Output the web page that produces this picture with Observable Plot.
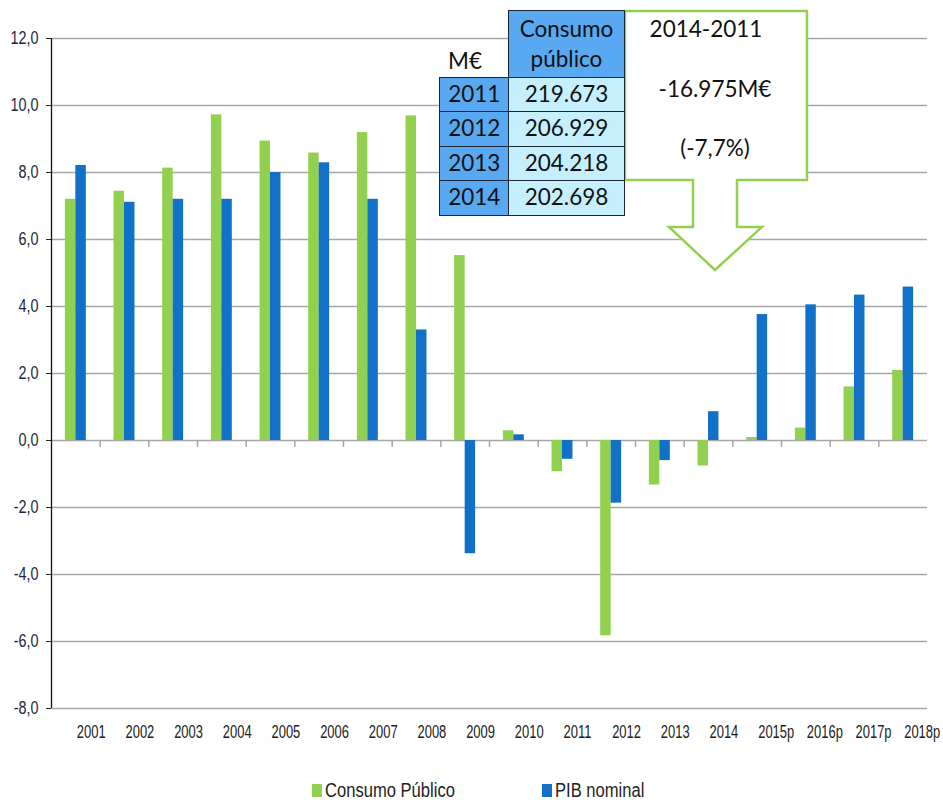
<!DOCTYPE html>
<html>
<head>
<meta charset="utf-8">
<script src="https://cdn.jsdelivr.net/npm/d3@7"></script>
<script src="https://cdn.jsdelivr.net/npm/@observablehq/plot@0.6"></script>
<style>
  html, body { margin: 0; padding: 0; background: white; }
  #wrap { position: relative; width: 943px; height: 802px; overflow: hidden; background: white; }
  #chart { position: absolute; left: 0; top: 0; }
  #legend { position: absolute; left: 0; top: 760px; width: 943px; height: 42px; }
  .lg-sw { position: absolute; width: 10px; height: 13px; top: 24px; }
  .lg-tx { position: absolute; top: 19px; font-family: "Liberation Sans", Arial, sans-serif; font-size: 19.5px; line-height: 22px; color: #222; white-space: nowrap; transform: scaleX(0.85); transform-origin: left center; }
  #callout { position: absolute; left: 0; top: 0; width: 943px; height: 802px; pointer-events: none; }
  .cell { position: absolute; box-sizing: border-box; font-family: Lato, "Open Sans", sans-serif; font-size: 22.5px; color: #111; text-align: center; }
</style>
</head>
<body>
<div id="wrap">
  <div id="chart"></div>
  <div id="legend"></div>
  <svg id="callout"></svg>
  <div id="tbl"></div>
</div>
<script>
// ---- data ----
const years = ["2001","2002","2003","2004","2005","2006","2007","2008","2009","2010","2011","2012","2013","2014","2015p","2016p","2017p","2018p"];
const consumoPublico = [7.2, 7.44, 8.13, 9.72, 8.94, 8.58, 9.19, 9.69, 5.52, 0.29, -0.93, -5.83, -1.33, -0.76, 0.09, 0.37, 1.6, 2.09];
const pibNominal = [8.21, 7.11, 7.2, 7.2, 8.0, 8.29, 7.2, 3.3, -3.38, 0.17, -0.56, -1.87, -0.6, 0.86, 3.76, 4.05, 4.34, 4.58];
const yTicks = [-8, -6, -4, -2, 0, 2, 4, 6, 8, 10, 12];
const seriesNames = ["Consumo Público", "PIB nominal"];
const seriesColors = ["#92d050", "#1170c8"];
const tableYears = ["2011", "2012", "2013", "2014"];
const tableValues = ["219.673", "206.929", "204.218", "202.698"];
const tableUnit = "M€";
const tableHeader = ["Consumo", "público"];
const calloutLines = ["2014-2011", "-16.975M€", "(-7,7%)"];

// ---- layout ----
const W = 943, H = 760, ML = 51, MR = 16, MT = 38, MB = 52;
const step = (W - ML - MR) / years.length;
const pInner = 0.57;
const half = step * (1 - pInner) / 2;
const fmt = d => d.toFixed(1).replace(".", ",");
const font = '"Liberation Sans", Arial, sans-serif';

const rows = years.map((y, i) => ({year: y, consumo: consumoPublico[i], pib: pibNominal[i]}));

const chart = Plot.plot({
  width: W, height: H,
  marginLeft: ML, marginRight: MR, marginTop: MT, marginBottom: MB,
  style: {fontFamily: font, fontSize: "18px", color: "#1d2640", background: "white"},
  x: {domain: years, axis: null, paddingInner: pInner, paddingOuter: pInner / 2, round: false},
  y: {domain: [-8, 12], ticks: yTicks, tickSize: 5, tickPadding: 8, tickFormat: fmt, label: null, axis: "left"},
  marks: [
    Plot.ruleY(yTicks, {y: d => d, stroke: "#a6a6a6", strokeWidth: 1.5}),
    Plot.barY(rows, {x: "year", y: "consumo", fill: seriesColors[0], insetRight: half}),
    Plot.barY(rows, {x: "year", y: "pib", fill: seriesColors[1], insetLeft: half}),
    Plot.ruleX(years.slice(1), {x: d => d, y1: 0, y2: -0.21, dx: -step / 2, stroke: "#a6a6a6", strokeWidth: 1.5}),
    Plot.ruleX([years[0]], {x: d => d, dx: -step / 2, stroke: "#111", strokeWidth: 1.3}),
    Plot.text(years, {x: d => d, text: d => d, frameAnchor: "bottom", textAnchor: "start", dy: 29, dx: 1, fontSize: 18, fill: "#222"})
  ]
});
document.getElementById("chart").appendChild(chart);

// condense the axis texts (the original uses a narrow face)
d3.select(chart).selectAll("text").each(function() {
  const isX = years.includes(this.textContent);
  const f = isX ? 0.72 : 0.8;
  const len = this.getComputedTextLength();
  if (len > 0) {
    this.setAttribute("textLength", (len * f).toFixed(2));
    this.setAttribute("lengthAdjust", "spacingAndGlyphs");
  }
});

// ---- legend ----
const legend = d3.select("#legend");
const lgX = [312, 542];
seriesNames.forEach((name, i) => {
  legend.append("div").attr("class", "lg-sw").style("left", lgX[i] + "px").style("background", seriesColors[i]);
  legend.append("div").attr("class", "lg-tx").style("left", (lgX[i] + 13) + "px").text(name);
});

// ---- callout arrow ----
const co = d3.select("#callout");
co.append("path")
  .attr("d", "M625,11 L807,11 L807,180 L737,180 L737,227 L762,227 L715,270 L669,227 L693,227 L693,180 L625,180 Z")
  .attr("fill", "white").attr("stroke", "#92d050").attr("stroke-width", 2.5).attr("stroke-linejoin", "miter");
const coY = [28, 88, 147], coX = [706, 715, 715];
calloutLines.forEach((t, i) => {
  co.append("text").attr("x", coX[i]).attr("y", coY[i]).attr("text-anchor", "middle").attr("dominant-baseline", "central")
    .attr("font-family", 'Lato, "Open Sans", sans-serif').attr("font-size", 22.5).attr("fill", "#111").text(t);
});

// ---- table ----
const tbl = d3.select("#tbl");
const c0 = 439, c1 = 508, c2 = 625, top0 = 10, hdrBottom = 77, rowH = 34.3;
tbl.append("div").attr("class", "cell")
  .style("left", (c0 - 4) + "px").style("top", "45px").style("width", "60px").style("height", "32px")
  .style("line-height", "32px").text(tableUnit);
tbl.append("div").attr("class", "cell")
  .style("left", c1 + "px").style("top", top0 + "px").style("width", (c2 - c1) + "px").style("height", (hdrBottom - top0 + 1) + "px")
  .style("background", "#58a9f1").style("border", "1.5px solid #1b2636").style("line-height", "30px").style("padding-top", "3px")
  .html(tableHeader.join("<br>"));
tableYears.forEach((y, i) => {
  const t = hdrBottom + rowH * i;
  tbl.append("div").attr("class", "cell")
    .style("left", c0 + "px").style("top", t + "px").style("width", (c1 - c0 + 1.5) + "px").style("height", (rowH + 1.5) + "px")
    .style("background", "#58a9f1").style("border", "1.5px solid #1b2636").style("line-height", (rowH - 1.5) + "px").text(y);
  tbl.append("div").attr("class", "cell")
    .style("left", c1 + "px").style("top", t + "px").style("width", (c2 - c1) + "px").style("height", (rowH + 1.5) + "px")
    .style("background", "#c6effe").style("border", "1.5px solid #1b2636").style("line-height", (rowH - 1.5) + "px").text(tableValues[i]);
});
</script>
</body>
</html>
